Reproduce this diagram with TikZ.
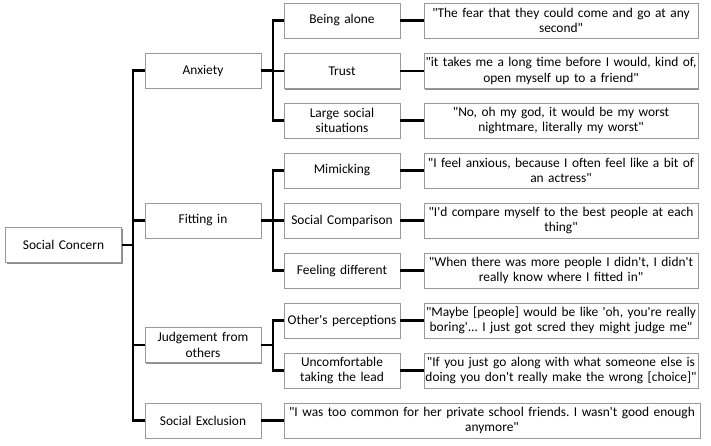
\documentclass[tikz,border=0pt]{standalone}
\usepackage{fontspec}
\setmainfont{Carlito}[Ligatures=TeXOff]
\frenchspacing
\usetikzlibrary{shadows}
\tikzset{
  scbox/.style={draw=black!40, fill=white, line width=0.6pt, align=center,
    inner xsep=0pt, inner ysep=1pt, minimum height=35pt,
    font=\fontsize{13.4}{15.5}\selectfont,
    drop shadow={shadow xshift=1.2pt, shadow yshift=-1.2pt, fill=black!45, opacity=1}},
  scmain/.style={scbox, minimum width=116pt, text width=114pt},
  scquote/.style={scbox, minimum width=274pt, text width=274pt},
  sclink/.style={line width=2.6pt, draw=black, line cap=butt},
}
\begin{document}
\begin{tikzpicture}[x=1pt, y=-1pt]
\useasboundingbox (0,0) rectangle (711,446);
% root and themes
\node[scmain] (root) at (63.5,245) {Social Concern};
\node[scmain] (anx) at (203,70.5) {Anxiety};
\node[scmain] (fit) at (203,220.5) {Fitting in};
\node[scmain] (judge) at (203,345) {Judgement from\\others};
\node[scmain] (excl) at (203,420.5) {Social Exclusion};
% sub-themes
\node[scmain] (alone) at (342,20.5) {Being alone};
\node[scmain] (trust) at (342,71) {Trust};
\node[scmain] (large) at (342,120.5) {Large social\\situations};
\node[scmain] (mimic) at (342,170.5) {Mimicking};
\node[scmain] (comp) at (342,220.5) {Social Comparison};
\node[scmain] (diff) at (342,270.5) {Feeling different};
\node[scmain] (perc) at (342,320.5) {Other's perceptions};
\node[scmain] (lead) at (342,370.5) {Uncomfortable\\taking the lead};
% quotes
\node[scquote] (qalone) at (561,20.5) {"The fear that they could come and go at any\\second"};
\node[scquote] (qtrust) at (561,71) {"it takes me a long time before I would, kind of,\\open myself up to a friend"};
\node[scquote] (qlarge) at (561,120.5) {"No, oh my god, it would be my worst\\nightmare, literally my worst"};
\node[scquote] (qmimic) at (561,170.5) {"I feel anxious, because I often feel like a bit of\\an actress"};
\node[scquote] (qcomp) at (561,220.5) {"I'd compare myself to the best people at each\\thing"};
\node[scquote] (qdiff) at (561,270.5) {"When there was more people I didn't, I didn't\\really know where I fitted in"};
\node[scquote] (qperc) at (561,320.5) {"Maybe [people] would be like 'oh, you're really\\boring'... I just got scred they might judge me"};
\node[scquote] (qlead) at (561,370.5) {"If you just go along with what someone else is\\doing you don't really make the wrong [choice]"};
\node[scbox, minimum width=416pt, text width=414pt] (qexcl) at (492,420.5) {"I was too common for her private school friends. I wasn't good enough\\anymore"};
% trunks
\coordinate (t0) at (133,245);
\coordinate (ta) at (273,70.5);
\coordinate (tf) at (273,220.5);
\coordinate (tj) at (273,345);
\draw[sclink] (root.east) -- (t0);
\foreach \n in {anx,fit,judge,excl} \draw[sclink] (t0) |- (\n.west);
\draw[sclink] (anx.east) -- (ta);
\foreach \n in {alone,trust,large} \draw[sclink] (ta) |- (\n.west);
\draw[sclink] (fit.east) -- (tf);
\foreach \n in {mimic,comp,diff} \draw[sclink] (tf) |- (\n.west);
\draw[sclink] (judge.east) -- (tj);
\foreach \n in {perc,lead} \draw[sclink] (tj) |- (\n.west);
\draw[sclink] (excl.east) -- (qexcl.west);
% sub-themes to quotes
\foreach \a/\b in {alone/qalone,trust/qtrust,large/qlarge,mimic/qmimic,comp/qcomp,diff/qdiff,perc/qperc,lead/qlead}
  \draw[sclink] (\a.east) -- (\b.west);
\end{tikzpicture}
\end{document}
